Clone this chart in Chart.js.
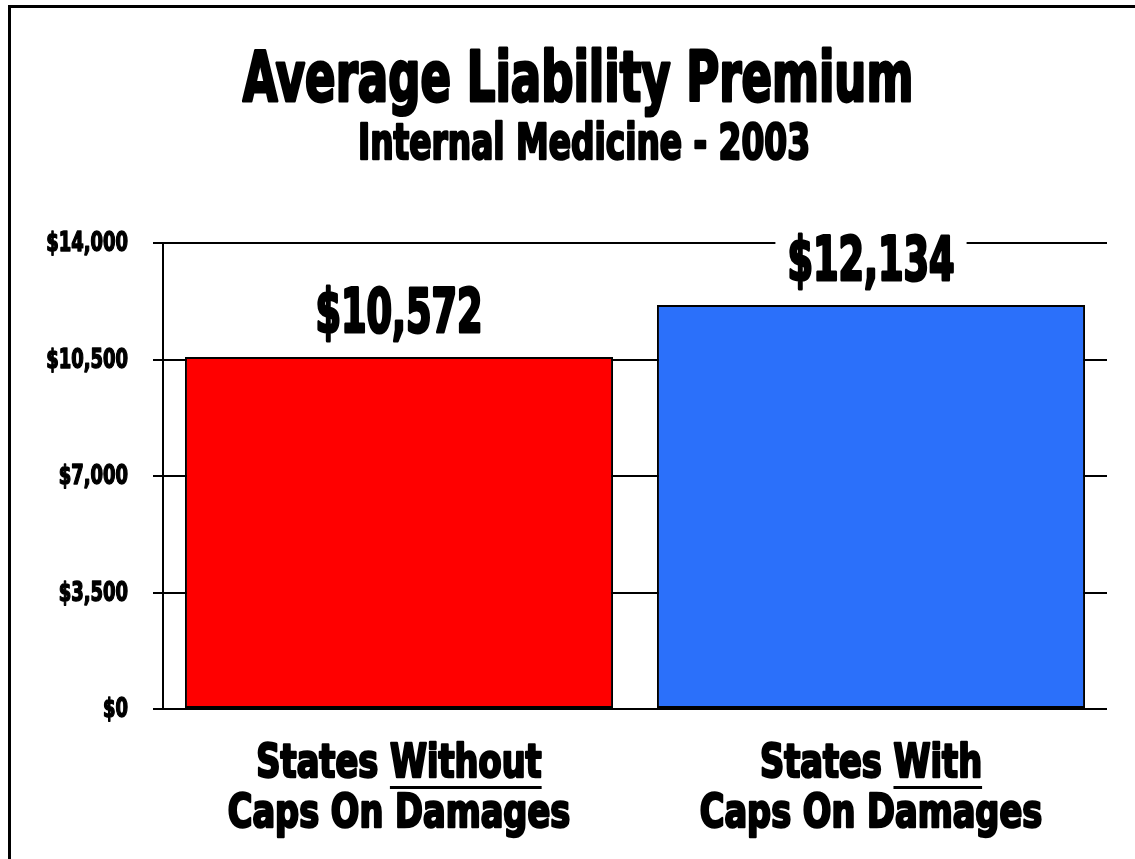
<!DOCTYPE html>
<html>
<head>
<meta charset="utf-8">
<title>Average Liability Premium</title>
<script src="https://cdn.jsdelivr.net/npm/chart.js@4.4.1/dist/chart.umd.min.js"></script>
<style>
  html, body { margin: 0; padding: 0; background: #fff; }
  #wrap { width: 1135px; height: 859px; position: relative; }
</style>
</head>
<body>
<div id="wrap"><canvas id="chart" width="1135" height="859"></canvas></div>
<script>
// Datos del gráfico
const titleText = 'Average Liability Premium';
const subtitleText = 'Internal Medicine - 2003';
const categoryLines = [
  ['States Without', 'Caps On Damages'],
  ['States With', 'Caps On Damages']
];
const underlinedWords = ['Without', 'With'];
const premiums = [10572, 12134];
const barColors = ['#ff0000', '#2b70fa'];
const yTicks = [0, 3500, 7000, 10500, 14000];

const FONT = '"DejaVu Sans Condensed", "DejaVu Sans", sans-serif';

function money(v) {
  return '$' + v.toLocaleString('en-US');
}

// Texto en negrita, comprimido en horizontal y con trazo extra (estilo "Impact")
function heavyText(ctx, text, x, y, size, squeeze, stroke, align) {
  ctx.save();
  ctx.translate(x, y);
  ctx.scale(squeeze, 1);
  ctx.font = 'bold ' + size + 'px ' + FONT;
  ctx.textAlign = align || 'center';
  ctx.lineJoin = 'round';
  ctx.lineWidth = stroke;
  ctx.strokeStyle = '#000';
  ctx.fillStyle = '#000';
  ctx.strokeText(text, 0, 0);
  ctx.fillText(text, 0, 0);
  const w = ctx.measureText(text).width * squeeze;
  ctx.restore();
  return w;
}

function textWidth(ctx, text, size, squeeze) {
  ctx.save();
  ctx.font = 'bold ' + size + 'px ' + FONT;
  const w = ctx.measureText(text).width * squeeze;
  ctx.restore();
  return w;
}

const decorPlugin = {
  id: 'decor',
  beforeDraw(chart) {
    const ctx = chart.ctx;
    ctx.save();
    ctx.fillStyle = '#fff';
    ctx.fillRect(0, 0, chart.width, chart.height);
    // marco exterior (solo lados izquierdo y superior quedan dentro del lienzo)
    ctx.strokeStyle = '#000';
    ctx.lineWidth = 3;
    ctx.beginPath();
    ctx.moveTo(9.5, chart.height);
    ctx.lineTo(9.5, 6.5);
    ctx.lineTo(chart.width, 6.5);
    ctx.stroke();
    ctx.restore();
  },
  afterDatasetsDraw(chart) {
    const ctx = chart.ctx;
    const meta = chart.getDatasetMeta(0);
    const yScale = chart.scales.y;
    const xScale = chart.scales.x;
    ctx.save();
    ctx.textBaseline = 'alphabetic';

    // títulos
    heavyText(ctx, titleText, 578, 101, 70, 0.715, 3, 'center');
    heavyText(ctx, subtitleText, 584, 159, 49, 0.745, 2.5, 'center');

    // etiquetas del eje Y
    ctx.textBaseline = 'middle';
    yScale.ticks.forEach(t => {
      heavyText(ctx, money(t.value), 128, yScale.getPixelForValue(t.value) + 1, 27, 0.74, 1.5, 'right');
    });
    ctx.textBaseline = 'alphabetic';

    // valores encima de cada barra, con fondo blanco sobre la rejilla
    meta.data.forEach((bar, i) => {
      const label = money(premiums[i]);
      const y = bar.y - 25;
      const w = textWidth(ctx, label, 60, 0.68);
      ctx.fillStyle = '#fff';
      ctx.fillRect(bar.x - w / 2 - 12, y - 48, w + 24, 56);
      heavyText(ctx, label, bar.x, y, 60, 0.68, 3, 'center');
    });

    // etiquetas de categoría con la palabra clave subrayada
    categoryLines.forEach((lines, i) => {
      const cx = xScale.getPixelForValue(i);
      lines.forEach((line, j) => {
        const y = chart.chartArea.bottom + 68 + j * 50;
        const total = heavyText(ctx, line, cx, y, 47, 0.795, 2.5, 'center');
        if (j === 0) {
          const ww = textWidth(ctx, underlinedWords[i], 47, 0.795);
          const right = cx + total / 2;
          ctx.fillStyle = '#000';
          ctx.fillRect(right - ww, y + 9, ww, 3);
        }
      });
    });
    ctx.restore();
  }
};

const ctx = document.getElementById('chart').getContext('2d');
new Chart(ctx, {
  type: 'bar',
  data: {
    labels: categoryLines.map(l => l.join(' ')),
    datasets: [{
      data: premiums,
      backgroundColor: barColors,
      borderColor: '#000',
      borderWidth: 2,
      borderSkipped: false,
      categoryPercentage: 1,
      barPercentage: 0.907
    }]
  },
  options: {
    responsive: false,
    animation: false,
    layout: {
      padding: {top: 243, right: 28, bottom: 150, left: 0}
    },
    plugins: {
      legend: {display: false},
      tooltip: {enabled: false}
    },
    scales: {
      x: {display: false},
      y: {
        min: 0,
        max: 14000,
        afterBuildTicks: (scale) => {
          scale.ticks = yTicks.map(v => ({value: v}));
        },
        afterFit: (scale) => {
          scale.width = 163;
        },
        grid: {
          color: '#000',
          lineWidth: 2,
          tickLength: 10,
          drawOnChartArea: true
        },
        border: {display: true, color: '#000', width: 2},
        ticks: {display: false}
      }
    }
  },
  plugins: [decorPlugin]
});
</script>
</body>
</html>
